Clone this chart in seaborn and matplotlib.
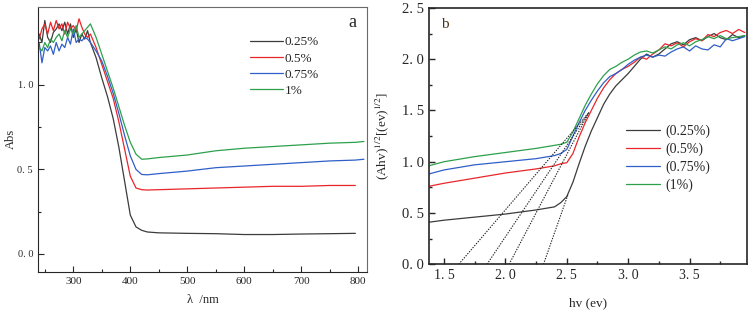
import seaborn as sns
import matplotlib.pyplot as plt
import pandas as pd
import numpy as np

sns.set_style('ticks')
plt.rcParams['font.family'] = ['Liberation Serif', 'DejaVu Serif']
plt.rcParams['mathtext.fontset'] = 'stix'

# ---- panel a data: absorbance vs wavelength
wavelength = [240, 245, 250, 255, 260, 265, 270, 275, 280, 285, 290, 295, 300, 305, 310, 315, 320, 325, 330,
              340, 350, 360, 370, 380, 390, 400, 410, 420, 430, 450, 500, 550, 600, 650, 700, 750, 795, 810]
abs_025 = [1.30, 1.25, 1.38, 1.28, 1.25, 1.31, 1.33, 1.36, 1.32, 1.37, 1.30, 1.36, 1.28, 1.33, 1.25, 1.30, 1.27, 1.32, 1.25,
           1.16, 1.04, 0.93, 0.80, 0.63, 0.43, 0.23, 0.16, 0.14, 0.13, 0.125, 0.122, 0.12, 0.115, 0.115, 0.118, 0.12, 0.122, np.nan]
abs_05 = [1.27, 1.33, 1.36, 1.30, 1.37, 1.32, 1.38, 1.33, 1.36, 1.30, 1.37, 1.33, 1.35, 1.32, 1.39, 1.34, 1.30, 1.28, 1.30,
          1.22, 1.12, 1.02, 0.92, 0.78, 0.62, 0.46, 0.39, 0.38, 0.378, 0.38, 0.385, 0.39, 0.395, 0.40, 0.40, 0.405, 0.405, np.nan]
abs_075 = [1.25, 1.13, 1.22, 1.20, 1.23, 1.18, 1.25, 1.20, 1.24, 1.22, 1.28, 1.24, 1.33, 1.25, 1.27, 1.26, 1.28, 1.27, 1.25,
           1.20, 1.14, 1.05, 0.95, 0.83, 0.70, 0.58, 0.50, 0.47, 0.468, 0.475, 0.49, 0.51, 0.52, 0.53, 0.54, 0.55, 0.555, 0.56]
abs_1 = [1.22, 1.20, 1.25, 1.22, 1.27, 1.25, 1.28, 1.30, 1.26, 1.32, 1.28, 1.33, 1.30, 1.35, 1.28, 1.30, 1.32, 1.34, 1.36,
         1.28, 1.18, 1.08, 0.98, 0.87, 0.76, 0.66, 0.59, 0.56, 0.562, 0.57, 0.585, 0.61, 0.625, 0.635, 0.645, 0.655, 0.66, 0.665]

# ---- panel b data: Tauc plot
hv = [1.375, 1.5, 1.75, 2.0, 2.25, 2.4, 2.45, 2.5, 2.55, 2.6, 2.65, 2.7, 2.75, 2.8, 2.85, 2.9, 2.95,
      3.0, 3.05, 3.1, 3.15, 3.2, 3.25, 3.3, 3.35, 3.4, 3.45, 3.5, 3.55, 3.6, 3.65, 3.7, 3.75, 3.8, 3.85, 3.9, 3.95]
tauc_025 = [0.41, 0.43, 0.46, 0.49, 0.53, 0.56, 0.60, 0.66, 0.80, 0.98, 1.15, 1.30, 1.43, 1.56, 1.66, 1.74, 1.80,
            1.86, 1.93, 2.00, 2.05, 2.02, 2.05, 2.10, 2.15, 2.17, 2.14, 2.19, 2.21, 2.18, 2.22, 2.25, 2.21, 2.19, 2.24, 2.21, 2.23]
tauc_05 = [0.76, 0.79, 0.84, 0.89, 0.93, 0.96, 0.98, 0.99, 1.08, 1.24, 1.38, 1.50, 1.62, 1.72, 1.80, 1.86, 1.90,
           1.93, 1.97, 2.02, 2.00, 2.05, 2.09, 2.15, 2.13, 2.16, 2.12, 2.17, 2.20, 2.18, 2.24, 2.22, 2.26, 2.28, 2.25, 2.29, 2.26]
tauc_075 = [0.88, 0.92, 0.97, 1.00, 1.03, 1.06, 1.08, 1.12, 1.25, 1.38, 1.50, 1.60, 1.69, 1.77, 1.83, 1.86, 1.90,
            1.95, 1.99, 2.02, 2.04, 2.02, 2.04, 2.03, 2.07, 2.10, 2.12, 2.08, 2.13, 2.10, 2.09, 2.14, 2.12, 2.20, 2.18, 2.20, 2.22]
tauc_1 = [0.96, 1.00, 1.05, 1.09, 1.13, 1.16, 1.17, 1.19, 1.29, 1.42, 1.55, 1.66, 1.76, 1.84, 1.90, 1.93, 1.97,
          2.00, 2.04, 2.07, 2.08, 2.06, 2.09, 2.12, 2.10, 2.14, 2.16, 2.13, 2.17, 2.19, 2.22, 2.20, 2.23, 2.20, 2.21, 2.22, 2.23]

# tangent (extrapolation) lines: start on x-axis, end on the curve
tan_x0 = [1.62, 1.85, 2.03, 2.31]
tan_x1 = [2.68, 2.68, 2.68, 2.51]
tan_y1 = [1.48, 1.48, 1.48, 0.68]

labels_a = ['0.25%', '0.5%', '0.75%', '1%']
labels_b = ['(0.25%)', '(0.5%)', '(0.75%)', '(1%)']
colors = ['#3c3c3c', '#e8262a', '#2f5fc9', '#2ea04c']

fig = plt.figure(figsize=(7.52, 3.16), dpi=100)
ax1 = fig.add_axes([0.0505, 0.140, 0.438, 0.838])
ax2 = fig.add_axes([0.570, 0.1636, 0.4237, 0.8114])

# panel a
for ys, lab, c in zip([abs_025, abs_05, abs_075, abs_1], labels_a, colors):
    sns.lineplot(x=wavelength, y=ys, ax=ax1, color=c, lw=0.9, label=lab)
ax1.set_xlim(238, 816)
ax1.set_ylim(-0.105, 1.46)
ax1.set_xticks([300, 400, 500, 600, 700, 800])
ax1.set_xticks(np.arange(250, 816, 50), minor=True)
ax1.set_yticks([0.0, 0.5, 1.0])
ax1.set_yticks([0.25, 0.75, 1.25], minor=True)
ax1.set_yticklabels(['0. 0', '0. 5', '1. 0'], fontsize=7.5)
ax1.tick_params(axis='x', labelsize=8)
ax1.tick_params(which='major', direction='in', length=4, width=0.8)
ax1.tick_params(which='minor', direction='in', length=2.5, width=0.8)
ax1.set_xlabel('λ  /nm', fontsize=9)
ax1.set_ylabel('Abs', fontsize=9)
ax1.xaxis.set_label_coords(0.5, -0.085)
ax1.yaxis.set_label_coords(-0.065, 0.5)
for s in ['top', 'right']:
    ax1.spines[s].set_color('#6a6a6a')
ax1.text(0.955, 0.94, 'a', transform=ax1.transAxes, fontsize=13, ha='center', va='center')
ax1.legend(loc='upper left', bbox_to_anchor=(0.645, 0.89), frameon=False, fontsize=9.5,
           handlelength=2.5, handletextpad=0.1, labelspacing=0.3, borderpad=0, borderaxespad=0)

# panel b
for ys, lab, c in zip([tauc_025, tauc_05, tauc_075, tauc_1], labels_b, colors):
    sns.lineplot(x=hv, y=ys, ax=ax2, color=c, lw=0.9, label=lab)
for x0, x1, y1 in zip(tan_x0, tan_x1, tan_y1):
    ax2.plot([x0, x1], [0, y1], ls=(0, (1.2, 1.2)), color='#222222', lw=0.8)
ax2.set_xlim(1.375, 3.97)
ax2.set_ylim(0, 2.5)
ax2.set_xticks([1.5, 2.0, 2.5, 3.0, 3.5])
ax2.set_xticks(np.arange(1.75, 3.97, 0.5), minor=True)
ax2.set_xticklabels(['1. 5', '2. 0', '2. 5', '3. 0', '3. 5'], fontsize=10)
ax2.set_yticks([0.0, 0.5, 1.0, 1.5, 2.0, 2.5])
ax2.set_yticks(np.arange(0.25, 2.5, 0.5), minor=True)
ax2.set_yticklabels(['0. 0', '0. 5', '1. 0', '1. 5', '2. 0', '2. 5'], fontsize=10.5)
ax2.tick_params(which='major', direction='in', length=4, width=1)
ax2.tick_params(which='minor', direction='in', length=2.5, width=1)
ax2.set_xlabel('hv (ev)', fontsize=9.5)
ax2.set_ylabel(r'(Ahv)$^{1/2}$[(ev)$^{1/2}$]', fontsize=9.5)
ax2.xaxis.set_label_coords(0.5, -0.13)
ax2.yaxis.set_label_coords(-0.118, 0.5)
for s in ax2.spines.values():
    s.set_linewidth(1.2)
ax2.text(0.05, 0.935, 'b', transform=ax2.transAxes, fontsize=11, ha='center', va='center', color='#4a3018')
ax2.legend(loc='upper left', bbox_to_anchor=(0.62, 0.545), frameon=False, fontsize=10,
           handlelength=2.4, handletextpad=0.4, labelspacing=0.32, borderpad=0, borderaxespad=0)

fig.savefig('out.png', dpi=100)
